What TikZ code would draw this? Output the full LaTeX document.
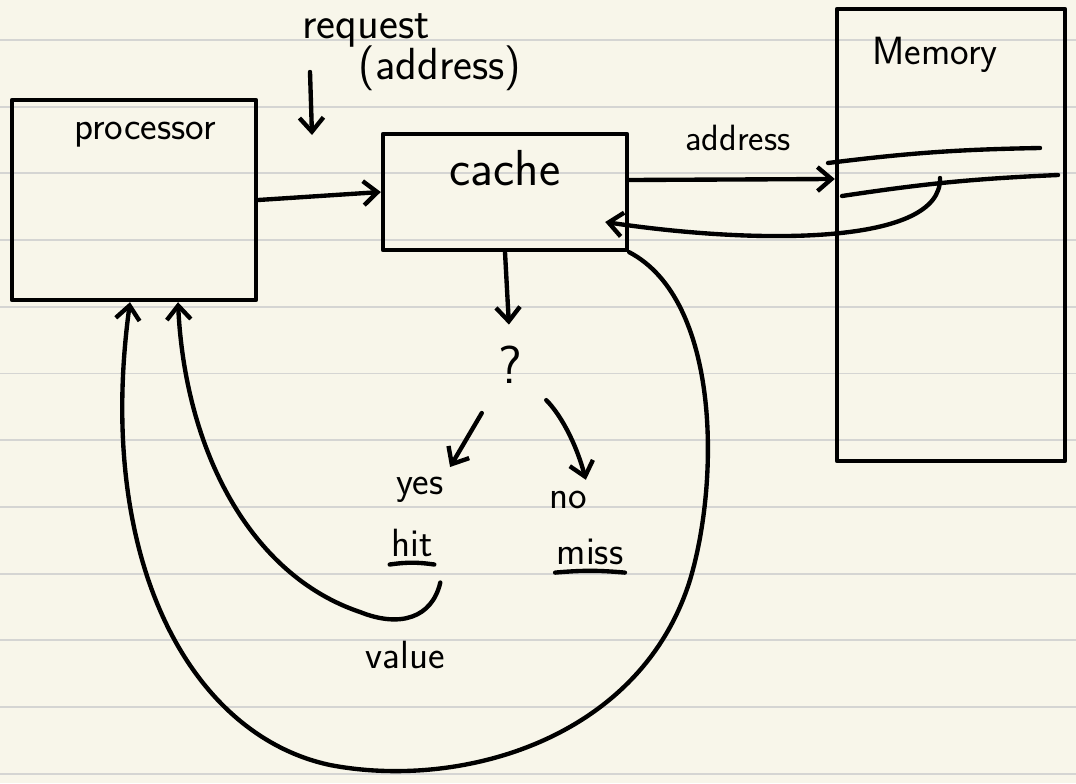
\documentclass[tikz,border=0pt]{standalone}
\usepackage{xcolor}
\usetikzlibrary{positioning,arrows.meta}

\definecolor{paper}{HTML}{F8F6EA}
\definecolor{ruling}{HTML}{D5D5D3}

\begin{document}
\begin{tikzpicture}[
  x=0.025cm, y=-0.025cm,
  font=\sffamily\fontsize{28}{30}\selectfont,
  ink/.style={line width=3.1pt, line cap=round, line join=round},
  box/.style={ink, draw, rectangle, inner sep=0pt},
  hand/.style={inner sep=1pt},
  arrow/.style={ink, -{Straight Barb[length=0.35cm, width=0.6cm, line width=3.1pt]}}
]

% paper
\fill[paper] (0,0) rectangle (1076,783);
\useasboundingbox (0,0) rectangle (1076,783);
\foreach \i in {0,...,11}
  \draw[ruling, line width=1.4pt] (0,{40+66.7*\i}) -- (1076,{40+66.7*\i});

% Boxes
\node[box, minimum width=6.1cm, minimum height=5cm] (processor) at (134,200) {};
\node[box, minimum width=6.1cm, minimum height=2.9cm] (cache) at (505,192) {};
\node[box, minimum width=5.7cm, minimum height=11.3cm] (memory) at (951,235) {};

% Labels
\node[hand] (proclabel) at (145,135) {processor};
\node[hand, font=\sffamily\fontsize{36}{38}\selectfont] (cachelabel) at (505,168) {cache};
\node[hand] (memlabel) at (935,55) {Memory};
\node[hand, font=\sffamily\fontsize{32}{34}\selectfont] (request) at (366,30) {request};
\node[hand, font=\sffamily\fontsize{32}{34}\selectfont] (reqaddr) at (440,68) {(address)};
\node[hand, font=\sffamily\fontsize{26}{28}\selectfont] (addrlabel) at (738,138) {address};
\node[hand, font=\sffamily\fontsize{38}{40}\selectfont] (question) at (510,365) {?};
\node[hand] (yes) at (420,490) {yes};
\node[hand] (hit) at (412,543) {hit};
\node[hand] (no) at (568,500) {no};
\node[hand] (miss) at (590,552) {miss};
\node[hand] (value) at (405,655) {value};

% underlines
\draw[ink] ([yshift=-0.15cm]hit.south west) to[bend left=8] ([yshift=-0.15cm]hit.south east);
\draw[ink] ([yshift=-0.15cm]miss.south west) to[bend left=5] ([yshift=-0.15cm]miss.south east);

% memory slots
\draw[ink] (828,163) to[bend left=3] (1040,148);
\draw[ink] (842,196) to[bend left=3] (1058,175);
\coordinate (slot) at (940,178);

% request arrow
\coordinate (reqtail) at (310,72);
\coordinate (reqhead) at (312,135);
\draw[arrow] (reqtail) -- (reqhead);

% Arrows
\draw[arrow] (processor.east) -- (cache.west);
\draw[arrow] ([yshift=0.3cm]cache.east) -- ([yshift=1.4cm]memory.west);
\draw[arrow] (slot) .. controls (942,245) and (760,245) .. ([xshift=-0.6cm,yshift=-0.75cm]cache.east);
\draw[arrow, shorten >=0.5cm] (cache.south) -- (question.north);
\draw[arrow, shorten <=0.8cm, shorten >=0.25cm] (question) -- (yes.north east);
\draw[arrow, shorten <=0.8cm, shorten >=0.25cm] (question) to[bend left=15] (no.north east);

% hit value back to processor
\draw[arrow] ([xshift=0.15cm,yshift=-0.6cm]hit.south east) .. controls (432,618) and (400,628) .. (360,612)
  .. controls (250,575) and (185,450) .. ([xshift=1.1cm]processor.south);

% miss path back to processor
\draw[arrow] (cache.south east) .. controls (720,300) and (720,480) .. (690,580)
  .. controls (640,740) and (460,790) .. (330,765)
  .. controls (190,735) and (95,560) .. ([xshift=-0.1cm]processor.south);

\end{tikzpicture}
\end{document}
